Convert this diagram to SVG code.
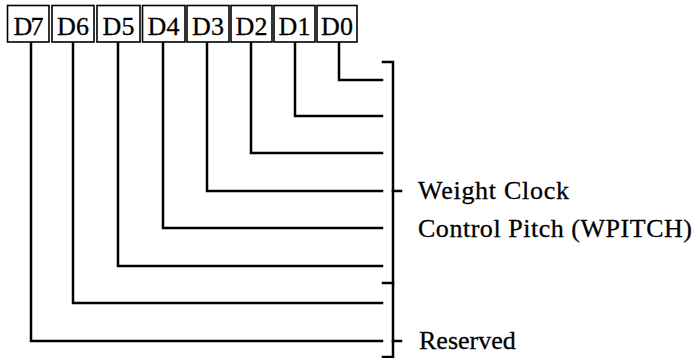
<svg xmlns="http://www.w3.org/2000/svg" width="699" height="358" viewBox="0 0 699 358">
<style>
.box{fill:#fff;stroke:#000;stroke-width:1.6}
.bt{font-family:'Liberation Serif','DejaVu Serif',Times,serif;font-size:26px;fill:#000;stroke:#000;stroke-width:0.3;text-anchor:middle}
.lb{font-family:'Liberation Serif','DejaVu Serif',Times,serif;font-size:26px;fill:#000;stroke:#000;stroke-width:0.3}
.ln{fill:none;stroke:#000;stroke-width:2.5;stroke-linejoin:miter;stroke-linecap:square}
</style>
<rect width="699" height="358" fill="#fff"/>
<g id="D7"><rect class="box" x="7.5" y="5.5" width="41.5" height="36.5"/><text class="bt" x="28.5" y="35" textLength="30" lengthAdjust="spacing">D7</text></g>
<g id="D6"><rect class="box" x="52" y="5.5" width="42" height="36.5"/><text class="bt" x="73" y="35">D6</text></g>
<g id="D5"><rect class="box" x="97" y="5.5" width="43" height="36.5"/><text class="bt" x="118.5" y="35">D5</text></g>
<g id="D4"><rect class="box" x="142.5" y="5.5" width="42.5" height="36.5"/><text class="bt" x="163.5" y="35">D4</text></g>
<g id="D3"><rect class="box" x="187" y="5.5" width="42" height="36.5"/><text class="bt" x="208" y="35">D3</text></g>
<g id="D2"><rect class="box" x="231" y="5.5" width="41" height="36.5"/><text class="bt" x="251.5" y="35">D2</text></g>
<g id="D1"><rect class="box" x="274" y="5.5" width="41" height="36.5"/><text class="bt" x="294.5" y="35">D1</text></g>
<g id="D0"><rect class="box" x="317" y="5.5" width="40" height="36.5"/><text class="bt" x="337" y="35">D0</text></g>
<g id="connectors">
<path class="ln" d="M339 43V80H382"/>
<path class="ln" d="M295 43V116H382"/>
<path class="ln" d="M251 43V153H382"/>
<path class="ln" d="M207 43V191H382"/>
<path class="ln" d="M163 43V228H382"/>
<path class="ln" d="M118 43V266H382"/>
<path class="ln" d="M73 43V303H382"/>
<path class="ln" d="M31 43V341H382"/>
<path class="ln" d="M383 62H393V357H383"/>
<path class="ln" d="M383 283H393"/>
<path class="ln" d="M393 191H401"/>
<path class="ln" d="M393 341H401"/>
</g>
<g id="labels">
<text class="lb" x="418" y="199" textLength="151" lengthAdjust="spacing">Weight Clock</text>
<text class="lb" x="418" y="237" textLength="274" lengthAdjust="spacing">Control Pitch (WPITCH)</text>
<text class="lb" x="419" y="349">Reserved</text>
</g>
</svg>
